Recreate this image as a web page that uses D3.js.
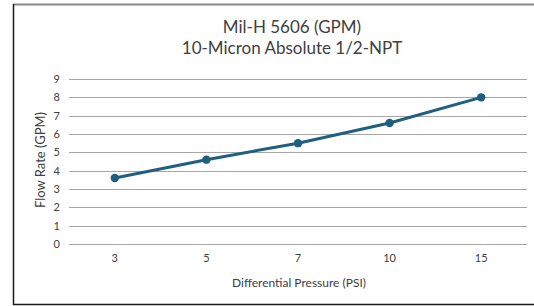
<!DOCTYPE html>
<html><head><meta charset="utf-8">
<script src="https://cdn.jsdelivr.net/npm/d3@7"></script>
<style>
html,body{margin:0;padding:0;background:#fff;}
svg{display:block;font-family:Lato,"Open Sans",sans-serif;}
</style></head>
<body><svg id="c" width="534" height="306"></svg>
<script>
const categories = ["3","5","7","10","15"];
const flowRate = [3.6, 4.6, 5.5, 6.6, 8.0];
const yTicks = [0,1,2,3,4,5,6,7,8,9];
const titleLines = ["Mil-H 5606 (GPM)", "10-Micron Absolute 1/2-NPT"];
const xLabel = "Differential Pressure (PSI)";
const yLabel = "Flow Rate (GPM)";

(function(){
const svg = d3.select("#c");
// frame
svg.append("line").attr("x1",13).attr("x2",534).attr("y1",4.5).attr("y2",4.5).attr("stroke","#8a8a8a").attr("stroke-width",2);
svg.append("line").attr("x1",13.5).attr("x2",13.5).attr("y1",4).attr("y2",305).attr("stroke","#1a1a1a").attr("stroke-width",1.5);
svg.append("line").attr("x1",13).attr("x2",534).attr("y1",304.5).attr("y2",304.5).attr("stroke","#1a1a1a").attr("stroke-width",1.5);

const mL = 69, mR = 527, mT = 79, mB = 244;
const x = d3.scaleBand().domain(categories).range([mL, mR]);
const y = d3.scaleLinear().domain([0, 9]).range([mB, mT]);

// gridlines
svg.append("g").selectAll("line").data(yTicks).join("line")
  .attr("x1", mL).attr("x2", mR)
  .attr("y1", d => Math.round(y(d)) + 0.5).attr("y2", d => Math.round(y(d)) + 0.5)
  .attr("stroke", "#a6a6a6").attr("stroke-width", 1);

// y axis labels
const yAxis = d3.axisLeft(y).tickValues(yTicks).tickSize(0).tickPadding(9);
const gy = svg.append("g").attr("transform", `translate(${mL},0)`).call(yAxis);
gy.select(".domain").remove();
gy.selectAll("text").attr("font-size", 11).attr("fill", "#404040").attr("font-family","Lato,'Open Sans',sans-serif");

// x axis labels
const xAxis = d3.axisBottom(x).tickSize(0).tickPadding(10);
const gx = svg.append("g").attr("transform", `translate(0,${mB})`).call(xAxis);
gx.select(".domain").remove();
gx.selectAll("text").attr("font-size", 11).attr("fill", "#404040").attr("font-family","Lato,'Open Sans',sans-serif");

// line
const line = d3.line().x((d,i) => x(categories[i]) + x.bandwidth()/2).y(d => y(d));
svg.append("path").datum(flowRate).attr("d", line).attr("fill","none")
  .attr("stroke","#1f5f80").attr("stroke-width",3).attr("stroke-linejoin","round");
svg.append("g").selectAll("circle").data(flowRate).join("circle")
  .attr("cx",(d,i)=>x(categories[i]) + x.bandwidth()/2).attr("cy",d=>y(d)).attr("r",4.2)
  .attr("fill","#1f5f80");

// titles
svg.append("g").selectAll("text").data(titleLines).join("text")
  .attr("x", 292).attr("y",(d,i)=>33 + i*21).attr("text-anchor","middle")
  .attr("font-size",17).attr("fill","#404040").text(d=>d);

svg.append("text").attr("x", 299).attr("y", 287).attr("text-anchor","middle")
  .attr("font-size",12).attr("fill","#404040").text(xLabel);
svg.append("text").attr("transform","translate(45,160) rotate(-90)").attr("text-anchor","middle")
  .attr("font-size",13).attr("fill","#404040").text(yLabel);
})();
</script></body></html>
